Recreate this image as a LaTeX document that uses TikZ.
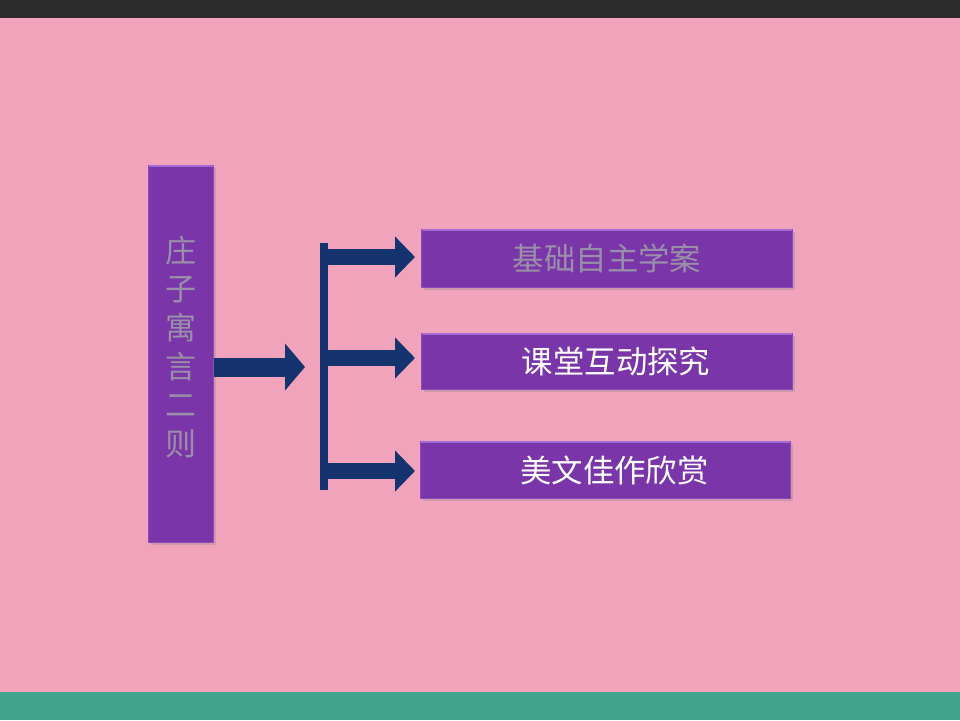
\documentclass[tikz,border=0pt]{standalone}
\usepackage{fontspec}
\newfontfamily\cjk{Noto Sans CJK SC}
\usetikzlibrary{arrows.meta}
\definecolor{bgpink}{HTML}{F2A3BC}
\definecolor{topbar}{HTML}{2B2B2B}
\definecolor{teal}{HTML}{3FA38D}
\definecolor{boxpurple}{HTML}{7A36A8}
\definecolor{boxedge}{HTML}{8A4CB8}
\definecolor{boxtop}{HTML}{A46AD6}
\definecolor{navy}{HTML}{15346F}
\definecolor{graytext}{HTML}{9A8FA8}
\tikzset{
  box/.style={draw=boxedge, line width=0.5pt, fill=boxpurple, inner sep=0pt, anchor=north west,
    font=\cjk\fontsize{15.7pt}{18pt}\selectfont},
  shadowbox/.style={fill=black!45, opacity=0.35},
  bigarrow/.style={draw=navy, line width=9.5pt, -{Triangle[length=10pt, width=23pt]}},
  brarrow/.style={draw=navy, line width=8pt, -{Triangle[length=10pt, width=20pt]}},
}
\begin{document}
\begin{tikzpicture}[x=0.5pt, y=-0.5pt]
\useasboundingbox (0,0) rectangle (960,720);
\fill[bgpink] (0,0) rectangle (960,720);
\fill[topbar] (0,0) rectangle (960,18);
\fill[teal] (0,692) rectangle (960,720);
% shadows
\fill[shadowbox] (151,168) rectangle (216,545);
\fill[shadowbox] (424,232) rectangle (795,290);
\fill[shadowbox] (424,336) rectangle (795,392);
\fill[shadowbox] (423,444) rectangle (793,501);
% boxes
\node[box, minimum width=32.5pt, minimum height=188.5pt] (main) at (148,165) {};
\node[text=graytext, font=\cjk\fontsize{15.5pt}{19.3pt}\selectfont, align=center, inner sep=0pt] (maintext) at (180.5,347)
  {庄\\子\\寓\\言\\二\\则};
\node[box, minimum width=185.5pt, minimum height=29pt, text=graytext] (b1) at (421,229) {基础自主学案};
\node[box, minimum width=185.5pt, minimum height=28pt, text=white, text width=185.5pt, align=center] (b2) at (421,333) {\hspace*{9pt}课堂互动探究};
\node[box, minimum width=185pt, minimum height=28.5pt, text=white, text width=185pt, align=center] (b3) at (420,441) {\hspace*{9pt}美文佳作欣赏};
\foreach \b in {main,b1,b2,b3}
  \draw[boxtop, line width=1pt] ([xshift=0.5pt,yshift=-0.6pt]\b.north west) -- ([xshift=-0.5pt,yshift=-0.6pt]\b.north east);
% connectors
\coordinate (hub) at (305,367);
\coordinate (bartop) at (324,243);
\coordinate (barbot) at (324,490);
\coordinate (s1) at (324,257);
\coordinate (s2) at (324,358);
\coordinate (s3) at (324,471);
\draw[bigarrow] (main.east |- hub) -- (hub);
\draw[navy, line width=4pt] (bartop) -- (barbot);
\draw[brarrow] (s1) -- (415,257);
\draw[brarrow] (s2) -- (415,358);
\draw[brarrow] (s3) -- (415,471);
\end{tikzpicture}
\end{document}
